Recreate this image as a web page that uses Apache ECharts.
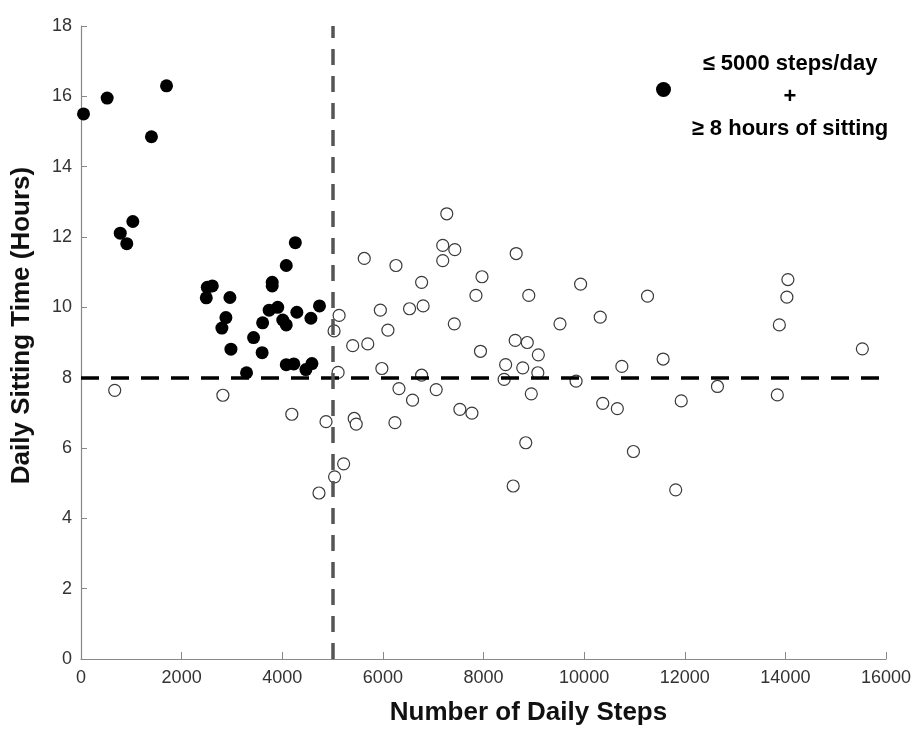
<!DOCTYPE html>
<html>
<head>
<meta charset="utf-8">
<script src="https://cdn.jsdelivr.net/npm/echarts@6/dist/echarts.min.js"></script>
<style>html,body{margin:0;padding:0;background:#fff}#c{width:915px;height:731px}</style>
</head>
<body>
<div id="c"></div>
<script>
// Filled: <= 5000 steps/day + >= 8 hours sitting
const filledSteps = [50, 520, 1700, 1400, 1030, 780, 910, 4260, 4080, 3800, 3800, 2510, 2610, 2490, 2960, 2880, 2800, 3740, 3910, 4290, 4740, 4570, 4010, 4080, 3610, 3430, 2980, 3600, 4080, 4230, 4470, 4590, 3290];
const filledHours = [15.5, 15.95, 16.3, 14.85, 12.44, 12.11, 11.81, 11.84, 11.19, 10.71, 10.61, 10.57, 10.61, 10.27, 10.28, 9.71, 9.41, 9.92, 10.0, 9.86, 10.04, 9.69, 9.64, 9.5, 9.56, 9.14, 8.81, 8.71, 8.37, 8.39, 8.23, 8.4, 8.14];
// Open: all other participants
const openSteps = [670, 2820, 4190, 4870, 4730, 5040, 5220, 5030, 5130, 5110, 5400, 5700, 5430, 5470, 5630, 5950, 5980, 6100, 6240, 6260, 6320, 6530, 6590, 6770, 6770, 6800, 7060, 7190, 7190, 7270, 7420, 7430, 7530, 7770, 7850, 7940, 7970, 8410, 8440, 8590, 8630, 8650, 8780, 8840, 8870, 8900, 8950, 9080, 9090, 9520, 9840, 9930, 10320, 10370, 10660, 10750, 10980, 11260, 11570, 11820, 11930, 12650, 13840, 13880, 14030, 14050, 15530];
const openHours = [7.64, 7.5, 6.96, 6.75, 4.72, 5.18, 5.55, 9.33, 9.77, 8.15, 8.91, 8.96, 6.84, 6.68, 11.39, 9.92, 8.26, 9.35, 6.72, 11.19, 7.69, 9.96, 7.36, 10.71, 8.07, 10.04, 7.66, 11.76, 11.33, 12.66, 9.53, 11.64, 7.1, 6.99, 10.34, 8.75, 10.87, 7.95, 8.37, 4.92, 9.06, 11.53, 8.28, 6.15, 9.0, 10.34, 7.54, 8.14, 8.65, 9.53, 7.9, 10.66, 9.72, 7.27, 7.12, 8.32, 5.9, 10.32, 8.53, 4.81, 7.34, 7.75, 7.51, 9.5, 10.29, 10.79, 8.82];
const stepThreshold = 5000;
const hourThreshold = 8;
const xTitle = 'Number of Daily Steps';
const yTitle = 'Daily Sitting Time (Hours)';
const legendLines = ['≤ 5000 steps/day', '+', '≥ 8 hours of sitting'];

const FONT = '"Liberation Sans", Arial, Helvetica, sans-serif';
const chart = echarts.init(document.getElementById('c'), null, {renderer: 'canvas'});
const zip = (a, b) => a.map((v, i) => [v, b[i]]);

chart.setOption({
  animation: false,
  backgroundColor: '#fff',
  grid: {left: 81, right: 29, top: 26, bottom: 68, containLabel: false},
  legend: {
    data: ['filled'],
    left: 656, top: 53, padding: 0,
    itemWidth: 15, itemHeight: 15,
    icon: 'circle',
    itemGap: 0,
    formatter: () => legendLines.map(s => '{a|' + s + '}').join('\n'),
    textStyle: {
      padding: [14, 0, 0, 9],
      rich: {
        a: {fontFamily: FONT, fontWeight: 'bold', fontSize: 22, color: '#000',
            lineHeight: 32.5, align: 'center', width: 210}
      }
    }
  },
  xAxis: {
    type: 'value', min: 0, max: 16000, interval: 2000,
    name: xTitle, nameLocation: 'middle', nameGap: 41,
    nameTextStyle: {fontFamily: FONT, fontWeight: 'bold', fontSize: 26, color: '#111', padding: [0, 0, 0, 90]},
    axisLine: {show: true, lineStyle: {color: '#888', width: 1.2}},
    axisTick: {show: true, inside: true, length: 7, lineStyle: {color: '#888'}},
    axisLabel: {fontFamily: FONT, fontSize: 18, color: '#333', margin: 10, formatter: v => String(v)},
    splitLine: {show: false}
  },
  yAxis: {
    type: 'value', min: 0, max: 18, interval: 2,
    name: yTitle, nameLocation: 'middle', nameGap: 46, nameRotate: 90,
    nameTextStyle: {fontFamily: FONT, fontWeight: 'bold', fontSize: 26, color: '#111', padding: [0, 0, 0, 34]},
    axisLine: {show: true, lineStyle: {color: '#888', width: 1.2}},
    axisTick: {show: true, inside: true, length: 6, lineStyle: {color: '#888'}},
    axisLabel: {fontFamily: FONT, fontSize: 18, color: '#333', margin: 9, formatter: v => String(v)},
    splitLine: {show: false}
  },
  series: [
    {
      name: 'open', type: 'scatter', symbol: 'circle', symbolSize: 12,
      itemStyle: {color: '#fff', borderColor: '#3a3a3a', borderWidth: 1.2, opacity: 1},
      data: zip(openSteps, openHours),
      markLine: {
        silent: true, symbol: 'none', label: {show: false},
        data: [
          [{coord: [0, hourThreshold]}, {coord: [16000, hourThreshold]}]
        ],
        lineStyle: {color: '#000', width: 3.5, type: [18, 12]}
      },
      z: 2
    },
    {
      name: 'filled', type: 'scatter', symbol: 'circle', symbolSize: 13,
      itemStyle: {color: '#000', opacity: 1},
      data: zip(filledSteps, filledHours),
      markLine: {
        silent: true, symbol: 'none', label: {show: false},
        data: [
          [{coord: [stepThreshold, 0]}, {coord: [stepThreshold, 18]}]
        ],
        lineStyle: {color: '#555', width: 3.5, type: [16, 11]}
      },
      z: 3
    }
  ]
});
</script>
</body>
</html>
